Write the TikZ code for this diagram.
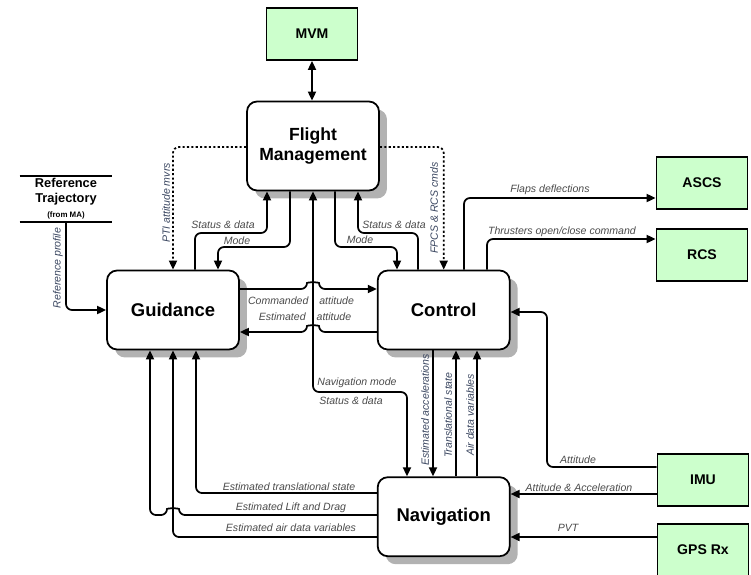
\documentclass[tikz,border=0pt]{standalone}
\usepackage{fontspec}
\setmainfont{Liberation Sans}
\usetikzlibrary{arrows.meta,positioning,shadows}
\definecolor{unitgreen}{HTML}{CCFFCC}
\definecolor{lblgray}{HTML}{4A4A4A}
\definecolor{vlblblue}{HTML}{3A4660}

\begin{document}
\begin{tikzpicture}[
    x=0.02cm, y=-0.02cm,
    line width=1pt,
    block/.style={draw, rounded corners=2mm, fill=white, minimum width=2.64cm, minimum height=1.58cm, align=center, font=\fontsize{10.5}{11}\selectfont\bfseries, drop shadow={shadow xshift=0.16cm, shadow yshift=-0.16cm, fill=black!30, opacity=1}},
    unit/.style={draw, fill=unitgreen, minimum width=1.82cm, minimum height=1.04cm, font=\fontsize{8}{9}\selectfont\bfseries},
    arr/.style={-{Triangle[length=1.8mm,width=1.6mm]}, rounded corners=1.2mm},
    biarr/.style={{Triangle[length=1.8mm,width=1.6mm]}-{Triangle[length=1.8mm,width=1.6mm]}, rounded corners=1.2mm},
    dots/.style={arr, dash pattern=on 1.2pt off 1.3pt},
    lbl/.style={text=lblgray, font=\fontsize{6}{7}\selectfont\itshape, inner sep=0pt},
    vlbl/.style={lbl, text=vlblblue, rotate=90}
]
\useasboundingbox (0,0) rectangle (751,575);

% main blocks
\node[block] (guid) at (173,310) {Guidance};
\node[block, right=2.74cm of guid] (ctrl) {Control};
\node[block, below=2.52cm of ctrl] (nav) {Navigation};
\node[block, minimum height=1.78cm, font=\fontsize{10}{11}\selectfont\bfseries] (fm) at (313,146) {Flight\\Management};

% external units
\node[unit] (mvm) at (312,34) {MVM};
\node[unit] (ascs) at (702,183) {ASCS};
\node[unit, below=0.36cm of ascs] (rcs) {RCS};
\node[unit] (imu) at (703,480) {IMU};
\node[unit, below=0.32cm of imu] (gps) {GPS Rx};

\node[align=center, font=\fontsize{7.3}{8.5}\selectfont\bfseries, minimum width=1.82cm, minimum height=0.9cm, inner sep=0pt] (reftraj) at (66,199) {Reference\\Trajectory\\{\fontsize{4.5}{5}\selectfont (from MA)}};
\draw (reftraj.north west) -- (reftraj.north east);
\draw (reftraj.south west) -- (reftraj.south east);

% flight management links
\draw[biarr] (mvm.south) -- (mvm.south |- fm.north);
\draw[dots] (fm.west |- 0,147) -| (guid.north);
\draw[dots] (fm.east |- 0,147) -| (ctrl.north);
\draw[arr] (guid.north -| 195,0) |- (267,233) -- (fm.south -| 267,0);
\draw[arr] (fm.south -| 290,0) |- (218,247) -- (guid.north -| 218,0);
\draw[arr] (fm.south -| 335,0) |- (397,247) -- (ctrl.north -| 397,0);
\draw[arr] (ctrl.north -| 418,0) |- (358,233) -- (fm.south -| 358,0);
\draw[biarr] (fm.south) -- (313,392) -| (nav.north -| 407,0);

% guidance <-> control
\draw[arr] (guid.east |- 0,289) -- (307,289) .. controls (307,282) and (319,282) .. (319,289) -- (ctrl.west |- 0,289);
\draw[arr] (ctrl.west |- 0,332) -- (319,332) .. controls (319,325) and (307,325) .. (307,332) -- (guid.east |- 0,332);

% control outputs and inputs
\draw[arr] (ctrl.north -| 464,0) |- (ascs.west |- 0,198);
\draw[arr] (ctrl.north -| 487,0) |- (rcs.west |- 0,239);
\draw[arr] (imu.west |- 0,467) -| (547,312) -- (ctrl.east |- 0,312);
\draw[arr] (ctrl.south -| 433,0) -- (nav.north -| 433,0);
\draw[arr] (nav.north -| 456,0) -- (ctrl.south -| 456,0);
\draw[arr] (nav.north -| 477,0) -- (ctrl.south -| 477,0);

% navigation inputs
\draw[arr] (imu.west |- 0,494) -- (nav.east |- 0,494);
\draw[arr] (gps.west |- 0,537) -- (nav.east |- 0,537);

% navigation -> guidance
\draw[arr] (nav.west |- 0,493) -| (guid.south -| 196,0);
\draw[arr] (nav.west |- 0,515) -- (179,515) .. controls (179,508) and (167,508) .. (167,515) -| (guid.south -| 150,0);
\draw[arr] (nav.west |- 0,537) -| (guid.south -| 173,0);
\draw[arr] (reftraj.south) |- (guid.west);

% labels
\node[vlbl] (lprof) at (58,268) {Reference profile};
\node[vlbl] (lpti) at (166,203) {PTI attitude mvrs};
\node[vlbl] (lfpcs) at (434,208) {FPCS \& RCS cmds};
\node[vlbl] (lacc) at (425,410) {Estimated accelerations};
\node[vlbl] (ltrans) at (448,415) {Translational state};
\node[vlbl] (lair) at (470,415) {Air data variables};
\node[lbl] (lstatl) at (223,225) {Status \& data};
\node[lbl] (lmodel) at (237,241) {Mode};
\node[lbl] (lmoder) at (360,240) {Mode};
\node[lbl] (lstatr) at (394,225) {Status \& data};
\node[lbl] (lcmd) at (301,301) {Commanded\hspace{2.2mm}attitude};
\node[lbl] (lest) at (305,317) {Estimated\hspace{2.2mm}attitude};
\node[lbl] (lnavm) at (357,383) {Navigation mode};
\node[lbl] (lstatn) at (351,401) {Status \& data};
\node[lbl] (lflaps) at (550,190) {Flaps deflections};
\node[lbl] (lthr) at (562,232) {Thrusters open/close command};
\node[lbl] (latt) at (578,460) {Attitude};
\node[lbl] (lattacc) at (579,488) {Attitude \& Acceleration};
\node[lbl] (lpvt) at (568,528) {PVT};
\node[lbl] (lets) at (289,487) {Estimated translational state};
\node[lbl] (leld) at (291,508) {Estimated Lift and Drag};
\node[lbl] (lead) at (291,528) {Estimated air data variables};
\end{tikzpicture}
\end{document}
